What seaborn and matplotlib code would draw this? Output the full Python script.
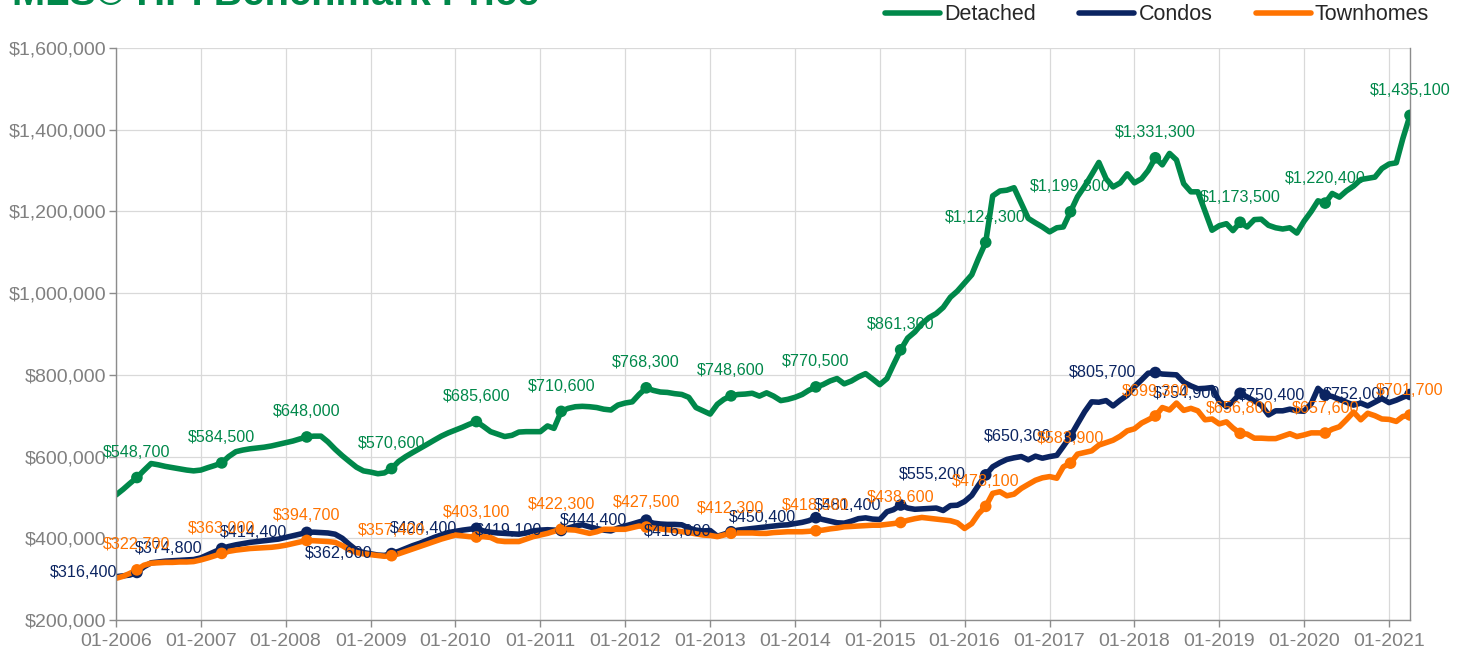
import numpy as np
import pandas as pd
import seaborn as sns
import matplotlib.pyplot as plt
import matplotlib.dates as mdates
from matplotlib.lines import Line2D
from matplotlib.ticker import FuncFormatter

# MLS HPI benchmark price, monthly Jan 2006 - Apr 2021, in $ thousands
detached = [
    506, 520, 534, 548.7, 566, 583, 580, 576, 573, 570, 567, 565,
    567, 573, 578, 584.5, 600, 612, 616, 619, 621, 623, 626, 630,
    634, 638, 643, 648.0, 650, 650, 636, 618, 602, 588, 574, 565,
    562, 558, 560, 570.6, 588, 600, 610, 620, 630, 640, 650, 658,
    665, 672, 679, 685.6, 674, 661, 655, 649, 652, 660, 661, 661,
    661, 675, 669, 710.6, 718, 722, 723, 722, 720, 716, 714, 726,
    731, 734, 752, 768.3, 762, 758, 757, 754, 752, 745, 720, 712,
    704, 728, 740, 748.6, 752, 753, 755, 748, 756, 748, 737, 740,
    745, 752, 762, 770.5, 776, 785, 791, 778, 785, 795, 803, 790,
    776, 791, 825, 861.3, 890, 905, 925, 940, 950, 965, 990, 1005,
    1025, 1045, 1085, 1124.3, 1238, 1250, 1252, 1258, 1220, 1183, 1172, 1162,
    1150, 1160, 1162, 1199.3, 1236, 1262, 1290, 1320, 1280, 1260, 1270, 1292,
    1270, 1280, 1300, 1331.3, 1314, 1342, 1326, 1268, 1248, 1248, 1200, 1154,
    1165, 1170, 1153, 1173.5, 1162, 1180, 1181, 1166, 1160, 1157, 1160, 1147,
    1176, 1200, 1226, 1220.4, 1244, 1235, 1250, 1262, 1278, 1281, 1284, 1305,
    1316, 1319, 1378, 1435.1,
]
condos = [
    306, 308, 310, 316.4, 330, 340, 342, 344, 345, 346, 347, 348,
    352, 360, 367, 374.8, 380, 384, 387, 390, 392, 394, 396, 398,
    402, 406, 410, 414.4, 415, 414, 413, 410, 400, 385, 371, 365,
    362, 359, 358, 362.6, 368, 375, 382, 388, 395, 402, 408, 414,
    417, 420, 422, 424.4, 418, 415, 413, 412, 411, 410, 413, 418,
    420, 421, 420, 419.1, 425, 430, 433, 428, 424, 420, 418, 425,
    430, 435, 440, 444.4, 437, 435, 434, 434, 433, 425, 420, 418,
    419, 405, 410, 416.0, 420, 422, 424, 426, 428, 430, 432, 433,
    436, 439, 443, 450.4, 446, 442, 438, 437, 442, 448, 450, 447,
    446, 465, 470, 481.4, 474, 471, 472, 473, 474, 468, 480, 481,
    490, 505, 530, 555.2, 575, 585, 593, 597, 600, 592, 601, 596,
    600, 603, 625, 650.3, 680, 710, 734, 733, 737, 724, 738, 750,
    771, 788, 804, 805.7, 802, 801, 800, 782, 773, 766, 767, 769,
    736, 722, 735, 754.9, 746, 736, 726, 702, 712, 712, 716, 712,
    711, 730, 767, 750.4, 747, 740, 733, 726, 731, 724, 733, 742,
    732, 738, 745, 752.0,
]
townhomes = [
    302, 307, 314, 322.7, 334, 339, 340, 341, 341, 342, 342, 343,
    347, 352, 357, 363.0, 368, 371, 373, 375, 376, 377, 378, 380,
    383, 387, 391, 394.7, 394, 393, 392, 390, 382, 372, 365, 362,
    360, 358, 356, 357.4, 362, 368, 374, 380, 386, 392, 398, 403,
    408, 406, 404, 403.1, 404, 402, 394, 392, 392, 392, 398, 404,
    408, 412, 417, 422.3, 421, 420, 416, 412, 416, 422, 422, 422,
    422, 426, 430, 427.5, 425, 423, 421, 419, 416, 414, 411, 408,
    407, 404, 408, 412.3, 413, 413, 413, 412, 412, 414, 415, 416,
    416, 416, 417, 418.5, 420, 423, 425, 428, 429, 430, 431, 432,
    432, 434, 436, 438.6, 444, 448, 451, 449, 447, 445, 443, 438,
    424, 436, 460, 478.1, 510, 514, 504, 508, 522, 532, 542, 548,
    551, 547, 575, 583.9, 606, 610, 614, 628, 634, 640, 650, 663,
    668, 682, 690, 699.3, 720, 714, 731, 713, 718, 712, 690, 692,
    680, 685, 670, 656.8, 655, 645, 645, 644, 644, 650, 656, 649,
    653, 658, 658, 657.6, 667, 673, 690, 709, 690, 706, 700, 692,
    691, 686, 698, 701.7,
]
series = ['Detached', 'Condos', 'Townhomes']
colors = ['#00884A', '#0B2461', '#FF7300']
y_ticks = [200000, 400000, 600000, 800000, 1000000, 1200000, 1400000, 1600000]

months = pd.date_range('2006-01-01', periods=len(detached), freq='MS')
df = pd.DataFrame({
    'month': np.tile(months, 3),
    'type': np.repeat(series, len(months)),
    'price': np.round(np.concatenate([detached, condos, townhomes]) * 1000),
})
april = df[df['month'].dt.month == 4]
pal = dict(zip(series, colors))

sns.set_theme(style='white')
plt.rcParams['font.family'] = ['Liberation Sans', 'DejaVu Sans']

fig = plt.figure(figsize=(14.64, 6.58), dpi=100)
ax = fig.add_axes([116 / 1464, 38 / 658, 1294 / 1464, 572 / 658])

sns.lineplot(data=df, x='month', y='price', hue='type', palette=pal, linewidth=4.0,
             legend=False, ax=ax, solid_joinstyle='round', solid_capstyle='round')
sns.scatterplot(data=april, x='month', y='price', hue='type', palette=pal, s=70,
                edgecolor='none', legend=False, ax=ax, zorder=3)

# data labels: detached / townhomes above, condos to the left
for _, r in april.iterrows():
    txt = '${:,.0f}'.format(r['price'])
    if r['type'] == 'Condos':
        ax.annotate(txt, (r['month'], r['price']), xytext=(-14, 0), textcoords='offset points',
                    ha='right', va='center', fontsize=11.6, color=pal['Condos'], zorder=5)
    else:
        ax.annotate(txt, (r['month'], r['price']), xytext=(0, 18), textcoords='offset points',
                    ha='center', va='center', fontsize=11.6, color=pal[r['type']], zorder=5)

ax.set_xlim(months[0], months[-1])
ax.set_ylim(200000, 1600000)
ax.set_yticks(y_ticks)
ax.yaxis.set_major_formatter(FuncFormatter(lambda v, p: '${:,.0f}'.format(v)))
ax.xaxis.set_major_locator(mdates.YearLocator())
ax.xaxis.set_major_formatter(mdates.DateFormatter('%m-%Y'))
ax.set_xlabel('')
ax.set_ylabel('')
ax.grid(True, color='#d9d9d9', linewidth=0.9)
ax.set_axisbelow(True)
for s in ['left', 'bottom', 'right']:
    ax.spines[s].set_color('#8c8c8c')
    ax.spines[s].set_linewidth(1)
ax.spines['top'].set_visible(False)
ax.tick_params(axis='both', colors='#8c8c8c', labelcolor='#808080', labelsize=14,
               length=5, width=1, direction='out', left=True, bottom=True)
ax.tick_params(axis='y', pad=2)
ax.tick_params(axis='x', pad=4)

handles = [Line2D([0], [0], color=c, lw=4.0, solid_capstyle='round') for c in colors]
fig.legend(handles, series, loc='center left', bbox_to_anchor=(885 / 1464, 1 - 15 / 658),
           ncol=3, frameon=False, fontsize=15.5, handlelength=2.56, handletextpad=0.2,
           columnspacing=2.0, borderpad=0, borderaxespad=0)

fig.text(12 / 1464, 1 - 5 / 658, 'MLS® HPI Benchmark Price', fontsize=28.7,
         fontweight='bold', color='#00884A', ha='left', va='baseline')

fig.savefig('out.png', dpi=100)
